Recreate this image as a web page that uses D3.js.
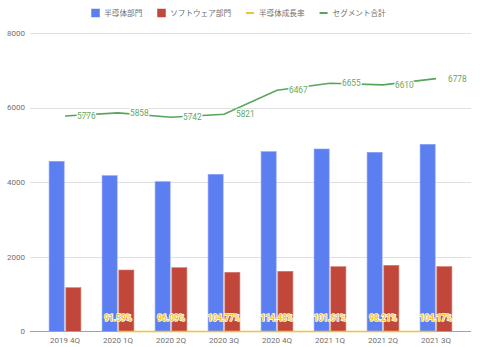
<!DOCTYPE html>
<html><head><meta charset="utf-8">
<script src="https://cdn.jsdelivr.net/npm/d3@7"></script>
<style>body{margin:0;background:#fff}svg{display:block}</style>
</head><body><svg id="c" width="480" height="347"></svg>
<script>
const categories = ["2019 4Q","2020 1Q","2020 2Q","2020 3Q","2020 4Q","2021 1Q","2021 2Q","2021 3Q"];
const semiconductor = [4561,4176,4015,4213,4819,4891,4803,5017];
const software = [1174,1648,1710,1587,1613,1737,1774,1740];
const growthPct = [null,91.59,96.09,104.77,114.48,101.61,98.21,104.17];
const segmentTotal = [5776,5858,5742,5821,6467,6655,6610,6778];
const yTicks = [0,2000,4000,6000,8000];
const seriesNames = ["半導体部門","ソフトウェア部門","半導体成長率","セグメント合計"];

const svg = d3.select("#c");
const font = "Roboto, Arial, 'Liberation Sans', sans-serif";
const cjk = "'Noto Sans CJK JP', 'Noto Sans', sans-serif";
const colors = {blue:"#5b7ff0", red:"#c1473a", yellow:"#f1c232", green:"#57a55a"};

const x = d3.scaleBand().domain(categories).range([38.5,462.5]).paddingInner(0.4).paddingOuter(0.2);
const x1 = d3.scaleBand().domain(["s","w"]).range([0,x.bandwidth()]).paddingInner(0.1);
const y = d3.scaleLinear().domain([0,8000]).range([331.5,33]);
const left = 30, right = 471;

// grid
svg.append("g").selectAll("line").data(yTicks.filter(d=>d>0)).join("line")
  .attr("x1",left).attr("x2",right)
  .attr("y1",d=>Math.round(y(d))+0.5).attr("y2",d=>Math.round(y(d))+0.5)
  .attr("stroke","#e0e0e0").attr("stroke-width",1);

// y axis labels
svg.append("g").selectAll("text").data(yTicks).join("text")
  .attr("x",25).attr("y",d=>y(d)).attr("dy","0.35em")
  .attr("text-anchor","end").attr("font-family",font).attr("font-size","8px").attr("fill","#6f6f6f")
  .text(d=>d);

// bars
const g = svg.append("g");
categories.forEach((c,i)=>{
  [["s",semiconductor[i],colors.blue,"#8aa2f5"],["w",software[i],colors.red,"#d47a70"]].forEach(([k,v,col,st])=>{
    g.append("rect").attr("x",x(c)+x1(k)).attr("width",x1.bandwidth())
      .attr("y",y(v)).attr("height",y(0)-y(v))
      .attr("fill",col).attr("stroke",st).attr("stroke-width",0.6);
  });
});

// baseline
svg.append("line").attr("x1",left).attr("x2",right).attr("y1",y(0)).attr("y2",y(0))
  .attr("stroke","#aca27f").attr("stroke-width",1.2);

// growth line (ratio on primary axis)
const gLine = d3.line().defined(d=>d.v!=null).x(d=>x(d.c)+x.bandwidth()/2).y(d=>y(d.v/100));
const gData = categories.map((c,i)=>({c,v:growthPct[i]}));
svg.append("path").attr("d",gLine(gData)).attr("fill","none").attr("stroke",colors.yellow).attr("stroke-width",1.6);

// total line
const tLine = d3.line().x(d=>x(d.c)+x.bandwidth()/2).y(d=>y(d.v));
const tData = categories.map((c,i)=>({c,v:segmentTotal[i]}));
svg.append("path").attr("d",tLine(tData)).attr("fill","none").attr("stroke",colors.green).attr("stroke-width",1.6);

// total labels
svg.append("g").selectAll("text").data(tData).join("text")
  .attr("x",d=>x(d.c)+x.bandwidth()/2+12).attr("y",d=>y(d.v)).attr("dy","0.35em")
  .attr("font-family",font).attr("font-size","8.3px").attr("fill","#62a962")
  .attr("stroke","#fff").attr("stroke-width",2.5).attr("paint-order","stroke").attr("stroke-linejoin","round")
  .text(d=>d.v);

// growth labels
svg.append("g").selectAll("text").data(gData.filter(d=>d.v!=null)).join("text")
  .attr("x",d=>x(d.c)+x.bandwidth()/2).attr("y",318).attr("dy","0.35em").attr("text-anchor","middle")
  .attr("font-family",font).attr("font-size","8.3px").attr("font-weight","bold").attr("fill",colors.yellow)
  .attr("stroke","#fff").attr("stroke-width",1.6).attr("paint-order","stroke").attr("stroke-linejoin","round")
  .text(d=>d.v.toFixed(2)+"%");

// x labels
svg.append("g").selectAll("text").data(categories).join("text")
  .attr("x",d=>x(d)+x.bandwidth()/2).attr("y",340).attr("dy","0.35em").attr("text-anchor","middle")
  .attr("font-family",font).attr("font-size","8px").attr("fill","#6f6f6f").text(d=>d);

// legend
const leg = svg.append("g");
const legColors = [colors.blue,colors.red,colors.yellow,colors.green];
let cx = 0;
seriesNames.forEach((n,i)=>{
  const it = leg.append("g").attr("transform",`translate(${cx},0)`);
  if(i<2) it.append("rect").attr("x",0).attr("y",13-4.25).attr("width",8.5).attr("height",8.5).attr("fill",legColors[i]);
  else it.append("rect").attr("x",0).attr("y",12).attr("width",8).attr("height",2).attr("fill",legColors[i]);
  const t = it.append("text").attr("x",13).attr("y",13).attr("dy","0.35em")
    .attr("font-family",cjk).attr("font-size","7.6px").attr("fill","#6f6f6f").text(n);
  cx += 13 + t.node().getComputedTextLength() + 15;
});
const totalW = cx - 15;
leg.attr("transform",`translate(${(94+383)/2 - totalW/2},0)`);
</script></body></html>
